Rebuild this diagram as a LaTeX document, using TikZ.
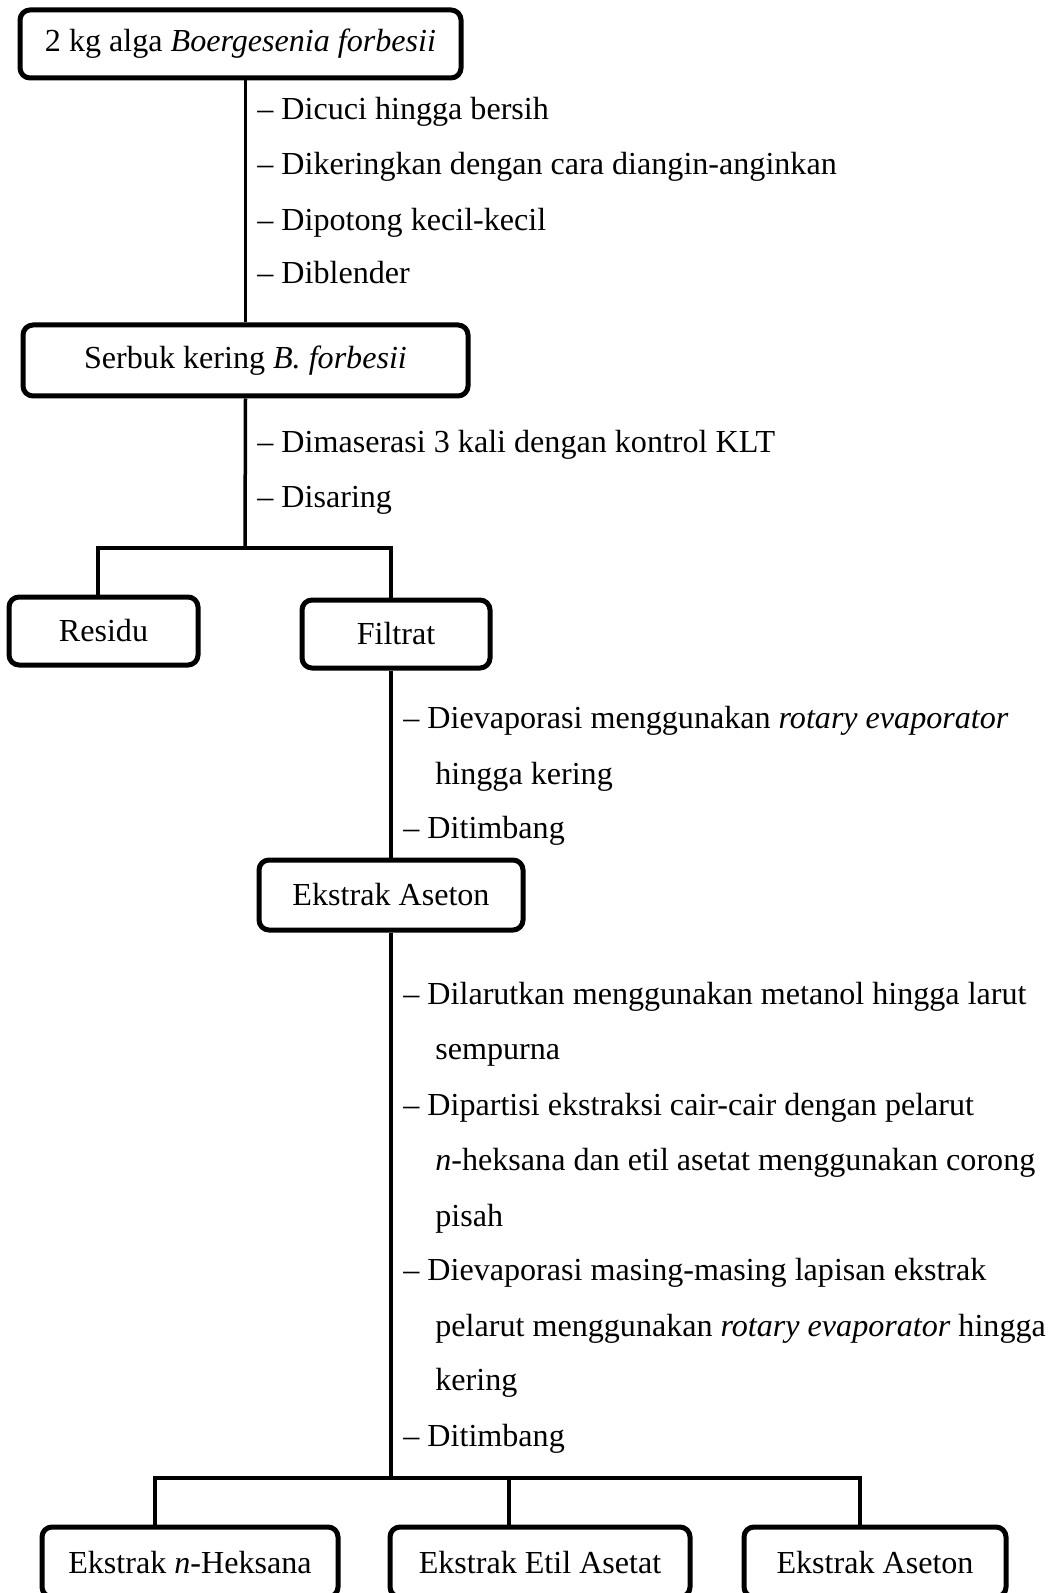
\documentclass[tikz,border=0pt]{standalone}
\usepackage{fontspec}
\setmainfont{Liberation Serif}
\usepackage{tikz}
\usetikzlibrary{calc}

\begin{document}
\begin{tikzpicture}[x=0.5pt,y=-0.5pt,font=\fontsize{16.05}{19}\selectfont,
  kotak/.style={draw,line width=2.5pt,rounded corners=5pt,inner sep=0pt,align=center},
  garis/.style={line width=1.75pt},
  ket/.style={anchor=base west,inner sep=0pt}]
  \useasboundingbox (0,0) rectangle (1052,1593);
  \node[kotak,minimum width=220.5pt,minimum height=34pt] (bahan) at (240.5,44) {2 kg alga \textit{Boergesenia forbesii}};
  \node[kotak,minimum width=222.5pt,minimum height=35.5pt] (serbuk) at (245.5,360.5) {Serbuk kering \textit{B. forbesii}};
  \node[kotak,minimum width=94.5pt,minimum height=34pt] (residu) at (103.5,631) {Residu};
  \node[kotak,minimum width=94pt,minimum height=34pt] (filtrat) at (396,634) {Filtrat};
  \node[kotak,minimum width=132pt,minimum height=35pt] (ekstrak) at (391,895) {Ekstrak Aseton};
  \node[kotak,minimum width=148pt,minimum height=35pt] (heksana) at (190,1562) {Ekstrak \textit{n}-Heksana};
  \node[kotak,minimum width=150pt,minimum height=35pt] (etil) at (540,1562) {Ekstrak Etil Asetat};
  \node[kotak,minimum width=131pt,minimum height=35pt] (aseton) at (875,1562) {Ekstrak Aseton};

  \draw[garis] (serbuk.north |- bahan.south) -- (serbuk.north);
  \node[ket] (a1) at (257,120) {– Dicuci hingga bersih};
  \node[ket] (a2) at (257,175) {– Dikeringkan dengan cara diangin-anginkan};
  \node[ket] (a3) at (257,231) {– Dipotong kecil-kecil};
  \node[ket] (a4) at (257,284) {– Diblender};

  \coordinate (cabang1) at (245,548);
  \draw[garis] (serbuk.south) -- (cabang1);
  \draw[garis] ([xshift=-2.75pt]residu.north) |- (cabang1) -| ([xshift=-2.5pt]filtrat.north);
  \node[ket] (b1) at (257,452) {– Dimaserasi 3 kali dengan kontrol KLT};
  \node[ket] (b2) at (257,507) {– Disaring};

  \draw[garis] (ekstrak.north |- filtrat.south) -- (ekstrak.north);
  \node[ket] (c1) at (403,728) {– Dievaporasi menggunakan \textit{rotary evaporator}};
  \node[ket] (c2) at (435,784) {hingga kering};
  \node[ket] (c3) at (403,838) {– Ditimbang};

  \coordinate (cabang2) at (391,1478);
  \draw[garis] (ekstrak.south) -- (cabang2);
  \draw[garis] ([xshift=-17.5pt]heksana.north) |- (cabang2) -| ([xshift=-7.5pt]aseton.north);
  \draw[garis] ([xshift=-15.5pt]etil.north) -- ([xshift=-15.5pt]etil.north |- cabang2);
  \node[ket] (d1) at (403,1004) {– Dilarutkan menggunakan metanol hingga larut};
  \node[ket] (d2) at (435,1059) {sempurna};
  \node[ket] (d3) at (403,1115) {– Dipartisi ekstraksi cair-cair dengan pelarut};
  \node[ket] (d4) at (435,1170) {\textit{n}-heksana dan etil asetat menggunakan corong};
  \node[ket] (d5) at (435,1226) {pisah};
  \node[ket] (d6) at (403,1280) {– Dievaporasi masing-masing lapisan ekstrak};
  \node[ket] (d7) at (435,1336) {pelarut menggunakan \textit{rotary evaporator} hingga};
  \node[ket] (d8) at (435,1390) {kering};
  \node[ket] (d9) at (403,1446) {– Ditimbang};
\end{tikzpicture}
\end{document}
